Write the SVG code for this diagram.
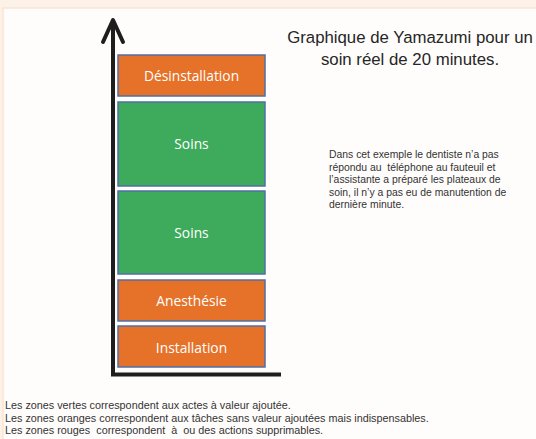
<svg xmlns="http://www.w3.org/2000/svg" width="536" height="439" viewBox="0 0 536 439">
<style>
.box{stroke:#4f6fa6;stroke-width:1.5}
.org{fill:#e57228}
.grn{fill:#3daa5c}
.lbl{font-family:"Open Sans","Noto Sans",sans-serif;font-size:13.8px;fill:#ffffff;text-anchor:middle}
.ttl{font-family:"Liberation Sans",Arial,sans-serif;font-size:16.8px;fill:#262626;text-anchor:middle}
.par{font-family:"Liberation Sans",Arial,sans-serif;font-size:10.4px;fill:#333333;white-space:pre}
.leg{font-family:"Liberation Sans",Arial,sans-serif;font-size:10.8px;fill:#333333;white-space:pre}
.axis{stroke:#1e1e1e;stroke-width:4;fill:none}
</style>
<rect x="0" y="0" width="536" height="439" fill="#fdf2e8"/>
<rect x="3" y="8" width="534" height="432" fill="#fffdfc" stroke="#fbe4d2" stroke-width="1.5"/>
<g id="axes">
<line class="axis" x1="113" y1="20" x2="113" y2="374"/>
<polyline class="axis" points="103,42 113,20 123,42" stroke-linecap="round" stroke-linejoin="round"/>
<line class="axis" x1="111" y1="374.5" x2="281" y2="374.5" stroke-width="5"/>
</g>
<g id="desinstallation">
<rect class="box org" x="118" y="55" width="147" height="41"/>
<text class="lbl" x="191.5" y="80.5">Désinstallation</text>
</g>
<g id="soins1">
<rect class="box grn" x="118" y="102" width="147" height="84"/>
<text class="lbl" x="191.5" y="148.5">Soins</text>
</g>
<g id="soins2">
<rect class="box grn" x="118" y="191" width="147" height="83"/>
<text class="lbl" x="191.5" y="237.5">Soins</text>
</g>
<g id="anesthesie">
<rect class="box org" x="118" y="280" width="147" height="41"/>
<text class="lbl" x="191.5" y="305.5">Anesthésie</text>
</g>
<g id="installation">
<rect class="box org" x="118" y="326" width="147" height="41"/>
<text class="lbl" x="191.5" y="352.5">Installation</text>
</g>
<g id="title">
<text class="ttl" x="410" y="43">Graphique de Yamazumi pour un</text>
<text class="ttl" x="410" y="65">soin réel de 20 minutes.</text>
</g>
<g id="note">
<text class="par" x="329" y="158">Dans cet exemple le dentiste n’a pas</text>
<text class="par" x="329" y="170.5">répondu au  téléphone au fauteuil et</text>
<text class="par" x="329" y="183">l’assistante a préparé les plateaux de</text>
<text class="par" x="329" y="195.5">soin, il n’y a pas eu de manutention de</text>
<text class="par" x="329" y="208">dernière minute.</text>
</g>
<g id="legend">
<text class="leg" x="5" y="409">Les zones vertes correspondent aux actes à valeur ajoutée.</text>
<text class="leg" x="5" y="421.5">Les zones oranges correspondent aux tâches sans valeur ajoutées mais indispensables.</text>
<text class="leg" x="5" y="434">Les zones rouges  correspondent  à  ou des actions supprimables.</text>
</g>
</svg>
